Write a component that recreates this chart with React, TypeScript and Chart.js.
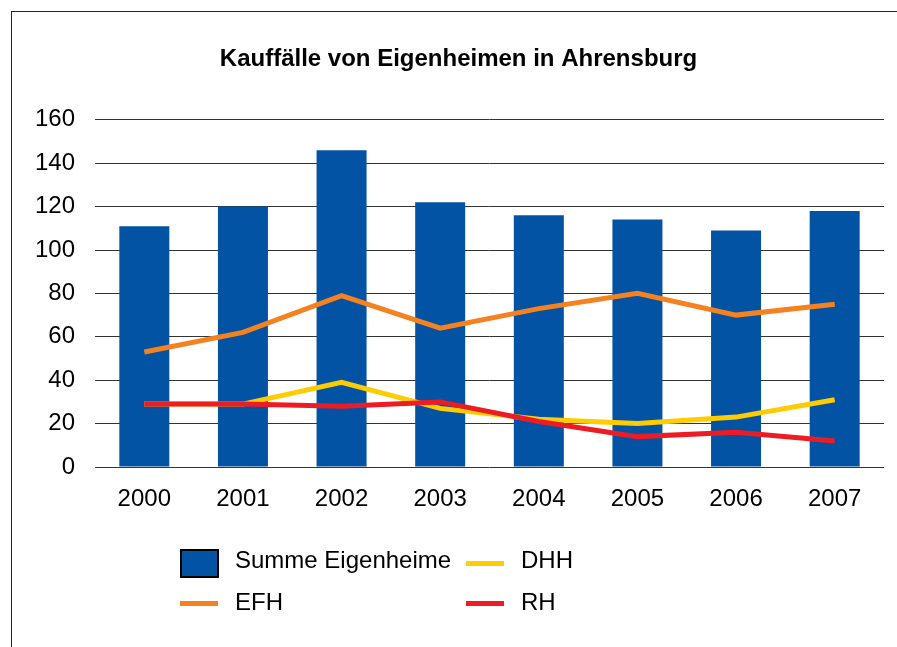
import React, { useEffect, useRef } from "react";
import { Chart, registerables } from "chart.js";

Chart.register(...registerables);

const titleText = "Kauffälle von Eigenheimen in Ahrensburg";
const years = ["2000", "2001", "2002", "2003", "2004", "2005", "2006", "2007"];
const summe = [111, 120, 146, 122, 116, 114, 109, 118];
const efh = [53, 62, 79, 64, 73, 80, 70, 75];
const dhh = [29, 29, 39, 27, 22, 20, 23, 31];
const rh = [29, 29, 28, 30, 21, 14, 16, 12];
const yMin = 0;
const yMax = 160;
const yStep = 20;

const labelSumme = "Summe Eigenheime";
const labelEFH = "EFH";
const labelDHH = "DHH";
const labelRH = "RH";

const cBlue = "#0353A4";
const cOrange = "#F58220";
const cYellow = "#FFCC00";
const cRed = "#ED1C24";

const FONT = "'Liberation Sans', Arial, Helvetica, sans-serif";

export default function App() {
  const ref = useRef<HTMLCanvasElement | null>(null);

  useEffect(() => {
    if (!ref.current) return;
    const chart = new Chart(ref.current, {
      type: "bar",
      data: {
        labels: years,
        datasets: [
          {
            type: "bar",
            label: labelSumme,
            data: summe,
            backgroundColor: cBlue,
            borderWidth: 0,
            barPercentage: 0.507,
            categoryPercentage: 1,
            order: 3,
          },
          {
            type: "line",
            label: labelEFH,
            data: efh,
            borderColor: cOrange,
            backgroundColor: cOrange,
            borderWidth: 5,
            pointRadius: 0,
            tension: 0,
            borderCapStyle: "butt",
            order: 2,
          },
          {
            type: "line",
            label: labelDHH,
            data: dhh,
            borderColor: cYellow,
            backgroundColor: cYellow,
            borderWidth: 5,
            pointRadius: 0,
            tension: 0,
            borderCapStyle: "butt",
            order: 1,
          },
          {
            type: "line",
            label: labelRH,
            data: rh,
            borderColor: cRed,
            backgroundColor: cRed,
            borderWidth: 5,
            pointRadius: 0,
            tension: 0,
            borderCapStyle: "butt",
            order: 0,
          },
        ],
      },
      options: {
        responsive: false,
        animation: false,
        devicePixelRatio: 1,
        layout: { padding: { left: 33, right: 13, top: 0, bottom: 140 } },
        plugins: {
          legend: { display: false },
          tooltip: { enabled: false },
          title: {
            display: true,
            text: titleText,
            color: "#000",
            font: { family: FONT, size: 24, weight: "bold" },
            padding: { top: 45, bottom: 46 },
          },
        },
        scales: {
          x: {
            grid: { display: false, drawTicks: false },
            border: { display: false },
            ticks: {
              color: "#000",
              font: { family: FONT, size: 24 },
              padding: 18,
              maxRotation: 0,
            },
            afterFit: (s: any) => {
              s.height = 40;
            },
          },
          y: {
            min: yMin,
            max: yMax,
            grid: { color: "#333", lineWidth: 1, drawTicks: false },
            border: { display: false },
            ticks: {
              stepSize: yStep,
              color: "#000",
              font: { family: FONT, size: 24 },
              padding: 20,
            },
            afterFit: (s: any) => {
              s.width = 62;
            },
          },
        },
      },
    });
    return () => chart.destroy();
  }, []);

  const textStyle: React.CSSProperties = {
    position: "absolute",
    fontFamily: FONT,
    fontSize: 24,
    color: "#000",
    lineHeight: "24px",
    whiteSpace: "nowrap",
  };
  const lineSwatch = (color: string, left: number, top: number): React.CSSProperties => ({
    position: "absolute",
    left,
    top,
    width: 38,
    height: 5,
    background: color,
  });

  return (
    <div
      style={{
        position: "absolute",
        left: 0,
        top: 0,
        width: 897,
        height: 647,
        overflow: "hidden",
        background: "#fff",
      }}
    >
      <div
        style={{
          position: "absolute",
          left: 11,
          top: 11,
          width: 900,
          height: 700,
          borderLeft: "1.5px solid #222",
          borderTop: "1.5px solid #222",
        }}
      />
      <canvas ref={ref} width={897} height={647} style={{ position: "absolute", left: 0, top: 0 }} />
      <div
        style={{
          position: "absolute",
          left: 180,
          top: 549,
          width: 35,
          height: 25,
          background: cBlue,
          border: "2px solid #000",
        }}
      />
      <div style={{ ...textStyle, left: 235, top: 548 }}>{labelSumme}</div>
      <div style={lineSwatch(cYellow, 466, 561)} />
      <div style={{ ...textStyle, left: 521, top: 548 }}>{labelDHH}</div>
      <div style={lineSwatch(cOrange, 180, 601)} />
      <div style={{ ...textStyle, left: 235, top: 590 }}>{labelEFH}</div>
      <div style={lineSwatch(cRed, 466, 601)} />
      <div style={{ ...textStyle, left: 521, top: 590 }}>{labelRH}</div>
    </div>
  );
}
